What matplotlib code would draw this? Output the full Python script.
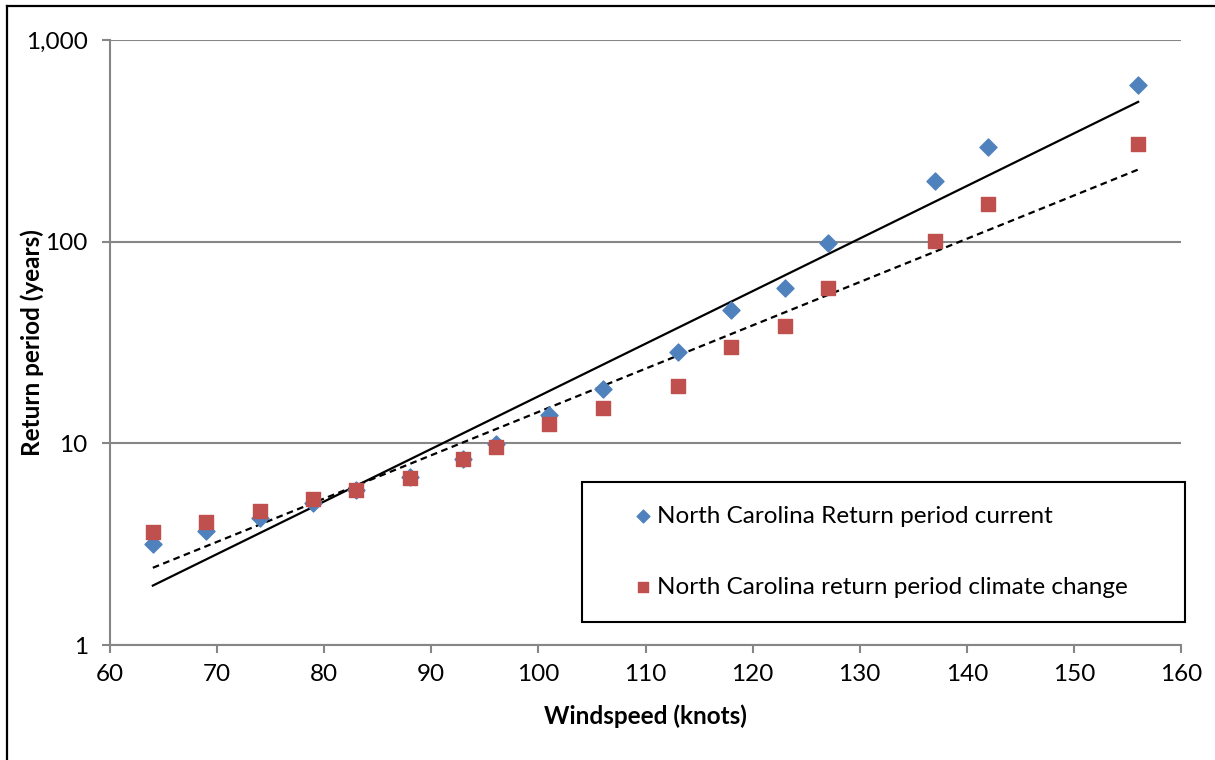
import numpy as np
import matplotlib
matplotlib.use("Agg")
from matplotlib import pyplot as plt
from matplotlib.lines import Line2D
from matplotlib.ticker import FixedLocator, FixedFormatter, NullLocator

# windspeed (knots) and return periods (years)
windspeed = [64, 69, 74, 79, 83, 88, 93, 96, 101, 106, 113, 118, 123, 127, 137, 142, 156]
rp_current = [3.17, 3.68, 4.27, 5.07, 5.88, 6.82, 8.38, 9.95, 13.8, 18.6, 28.4, 46, 59, 99, 199, 296, 595]
rp_climate = [3.64, 4.08, 4.62, 5.30, 5.88, 6.74, 8.38, 9.6, 12.4, 15.0, 19.3, 30.1, 38.3, 59, 101, 153, 306]
ytick_vals = [1, 10, 100, 1000]
ytick_labels = ["1", "10", "100", "1,000"]
xtick_vals = [60, 70, 80, 90, 100, 110, 120, 130, 140, 150, 160]

plt.rcParams['font.family'] = ['Lato', 'DejaVu Sans']
blue = "#4F81BD"
red = "#C0504D"
grey = "#868686"
fs = 17.5

fig = plt.figure(figsize=(12.15, 7.6), dpi=100)
ax = fig.add_axes([110/1215, 1 - 645/760, 1071/1215, 605/760])

x = np.array(windspeed, dtype=float)

# exponential trendlines (least squares on log y, like Excel)
def expfit(y):
    b, a = np.polyfit(x, np.log(y), 1)
    xx = np.array([x.min(), x.max()])
    return xx, np.exp(a + b * xx)

tx, ty = expfit(rp_current)
ax.plot(tx, ty, color="black", lw=1.6, zorder=3)
tx2, ty2 = expfit(rp_climate)
ax.plot(tx2, ty2, color="black", lw=1.6, ls=(0, (3, 2)), zorder=3)

ax.scatter(x, rp_current, marker="D", s=75, color=blue, zorder=4,
           label="North Carolina Return period current")
ax.scatter(x, rp_climate, marker="s", s=95, color=red, zorder=5,
           label="North Carolina return period climate change")

ax.set_yscale("log")
ax.set_ylim(1, 1000)
ax.set_xlim(60, 160)
ax.yaxis.set_major_locator(FixedLocator(ytick_vals))
ax.yaxis.set_major_formatter(FixedFormatter(ytick_labels))
ax.yaxis.set_minor_locator(NullLocator())
ax.set_xticks(xtick_vals)

ax.grid(axis="y", color=grey, lw=1.5)
ax.set_axisbelow(True)
for s in ["top", "right"]:
    ax.spines[s].set_visible(False)
for s in ["left", "bottom"]:
    ax.spines[s].set_color(grey)
    ax.spines[s].set_linewidth(1.5)
ax.tick_params(axis="both", colors=grey, length=6, width=1.5, labelsize=fs,
               labelcolor="black")
ax.tick_params(axis="y", pad=10)
ax.tick_params(axis="x", pad=8)

ax.set_xlabel("Windspeed (knots)", fontsize=fs, fontweight="bold")
ax.xaxis.set_label_coords(0.5, -0.098)
ax.set_ylabel("Return period (years)", fontsize=fs, fontweight="bold")
ax.yaxis.set_label_coords(-0.062, 0.5)

leg = ax.legend(loc="lower left", bbox_to_anchor=(0.4407, 0.038, 0.563, 0.233),
                mode="expand", borderaxespad=0, fontsize=fs, frameon=True,
                fancybox=False, edgecolor="black", handlelength=3.0,
                handletextpad=-0.9, labelspacing=2.05, borderpad=1.0,
                scatterpoints=1, markerscale=0.75)
leg.get_frame().set_linewidth(1.5)
leg.get_frame().set_alpha(1)

# outer chart border (left and top edges visible)
fig.add_artist(Line2D([7/1215, 7/1215], [0, 1 - 6/760], color="black", lw=1.6))
fig.add_artist(Line2D([7/1215, 1], [1 - 6/760, 1 - 6/760], color="black", lw=1.6))

fig.savefig("out.png", dpi=100)
